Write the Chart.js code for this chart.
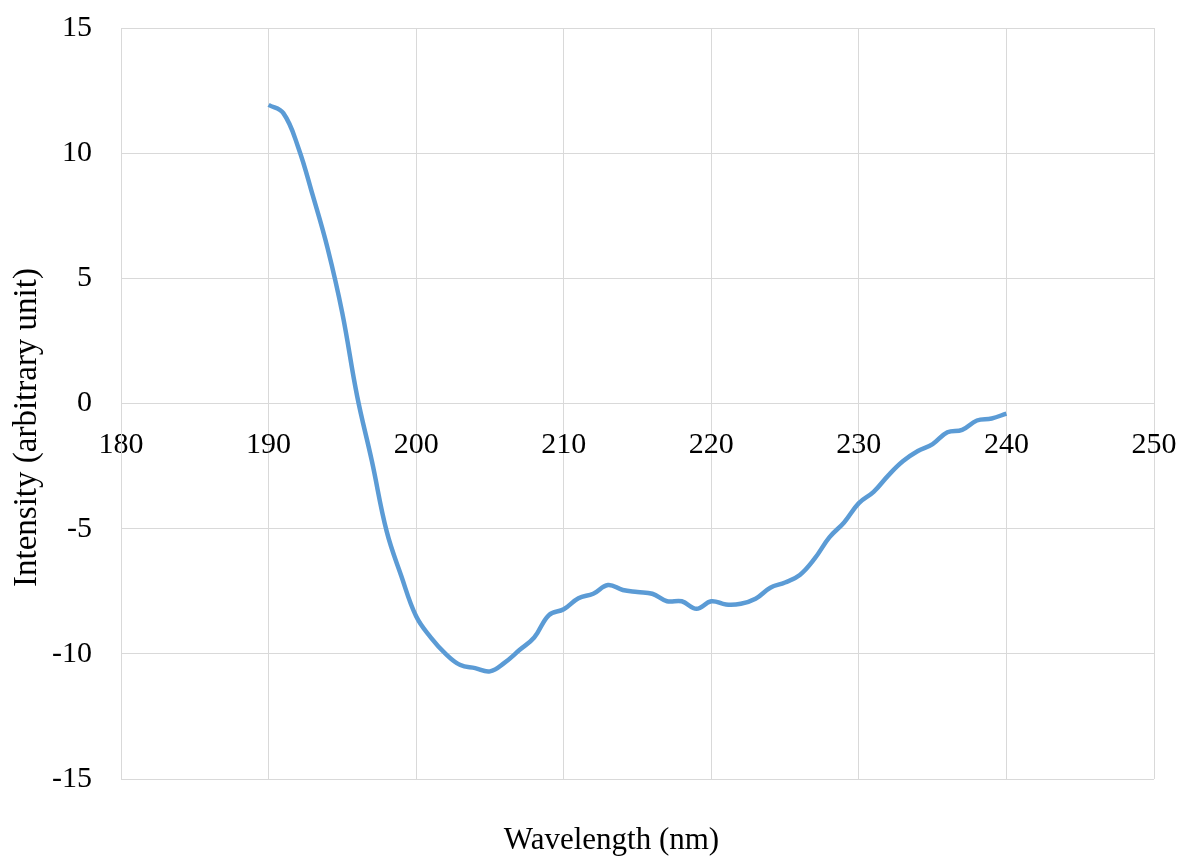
<!DOCTYPE html>
<html>
<head>
<meta charset="utf-8">
<script src="https://cdn.jsdelivr.net/npm/chart.js@4/dist/chart.umd.min.js"></script>
<style>
  body { margin: 0; background: #fff; }
  #wrap { width: 1181px; height: 859px; }
</style>
</head>
<body>
<div id="wrap"><canvas id="grafica" width="1181" height="859"></canvas></div>
<script>
const longitudes = [190, 191, 192, 193, 194, 195, 196, 197, 198, 199,
  200, 201, 202, 203, 204, 205, 206, 207, 208, 209,
  210, 211, 212, 213, 214, 215, 216, 217, 218, 219,
  220, 221, 222, 223, 224, 225, 226, 227, 228, 229,
  230, 231, 232, 233, 234, 235, 236, 237, 238, 239, 240];
const intensidad = [11.93, 11.6, 10.25, 8.3, 6.2, 3.6, 0.3, -2.3, -5.1, -6.9,
  -8.5, -9.35, -10.0, -10.45, -10.57, -10.7, -10.35, -9.85, -9.35, -8.45,
  -8.22, -7.78, -7.6, -7.25, -7.45, -7.53, -7.6, -7.9, -7.9, -8.2,
  -7.9, -8.03, -8.0, -7.8, -7.36, -7.15, -6.85, -6.2, -5.35, -4.75,
  -3.98, -3.53, -2.87, -2.3, -1.9, -1.62, -1.15, -1.05, -0.68, -0.6, -0.4];
const ticksX = [180, 190, 200, 210, 220, 230, 240, 250];
const ticksY = [-15, -10, -5, 0, 5, 10, 15];
const tituloX = "Wavelength (nm)";
const tituloY = "Intensity (arbitrary unit)";

const fuente = '"Liberation Serif", "Times New Roman", serif';
const gris = "#d9d9d9";

// titulos de ejes dibujados a mano para colocarlos como en la figura
const titulosEjes = {
  id: "titulosEjes",
  afterDraw(chart) {
    const { ctx, chartArea } = chart;
    ctx.save();
    ctx.fillStyle = "#000";
    ctx.textAlign = "center";
    ctx.textBaseline = "middle";
    ctx.font = "31px " + fuente;
    ctx.fillText(tituloX, (chartArea.left + chartArea.right) / 2 - 26, chartArea.bottom + 62);
    ctx.translate(27, (chartArea.top + chartArea.bottom) / 2 + 24);
    ctx.rotate(-Math.PI / 2);
    ctx.font = "33px " + fuente;
    ctx.fillText(tituloY, 0, 0);
    ctx.restore();
  }
};

const ctx = document.getElementById("grafica").getContext("2d");
new Chart(ctx, {
  type: "line",
  data: {
    datasets: [{
      label: "Intensity",
      data: longitudes.map((x, i) => ({ x: x, y: intensidad[i] })),
      borderColor: "#5b9bd5",
      borderWidth: 4.5,
      pointRadius: 0,
      tension: 0.4,
      fill: false
    }]
  },
  options: {
    responsive: false,
    animation: false,
    layout: { padding: { left: 0, top: 28, right: 27, bottom: 80 } },
    plugins: {
      legend: { display: false },
      tooltip: { enabled: false }
    },
    scales: {
      x: {
        type: "linear",
        position: { y: 0 },
        min: 180,
        max: 250,
        afterBuildTicks: scale => { scale.ticks = ticksX.map(v => ({ value: v })); },
        // la separacion de las etiquetas va en tickLength (marcas invisibles)
        grid: { color: gris, lineWidth: 1, drawTicks: true, tickLength: 24, tickColor: "rgba(0,0,0,0)" },
        border: { color: gris, width: 1 },
        ticks: {
          color: "#000",
          font: { family: fuente, size: 30 },
          padding: 0,
          maxRotation: 0
        }
      },
      y: {
        type: "linear",
        min: -15,
        max: 15,
        afterBuildTicks: scale => { scale.ticks = ticksY.map(v => ({ value: v })); },
        afterFit: scale => { scale.width = 121; },
        grid: { color: gris, lineWidth: 1, drawTicks: true, tickLength: 29, tickColor: "rgba(0,0,0,0)" },
        border: { color: gris, width: 1 },
        ticks: {
          color: "#000",
          font: { family: fuente, size: 30 },
          padding: 0
        }
      }
    }
  },
  plugins: [titulosEjes]
});
</script>
</body>
</html>
